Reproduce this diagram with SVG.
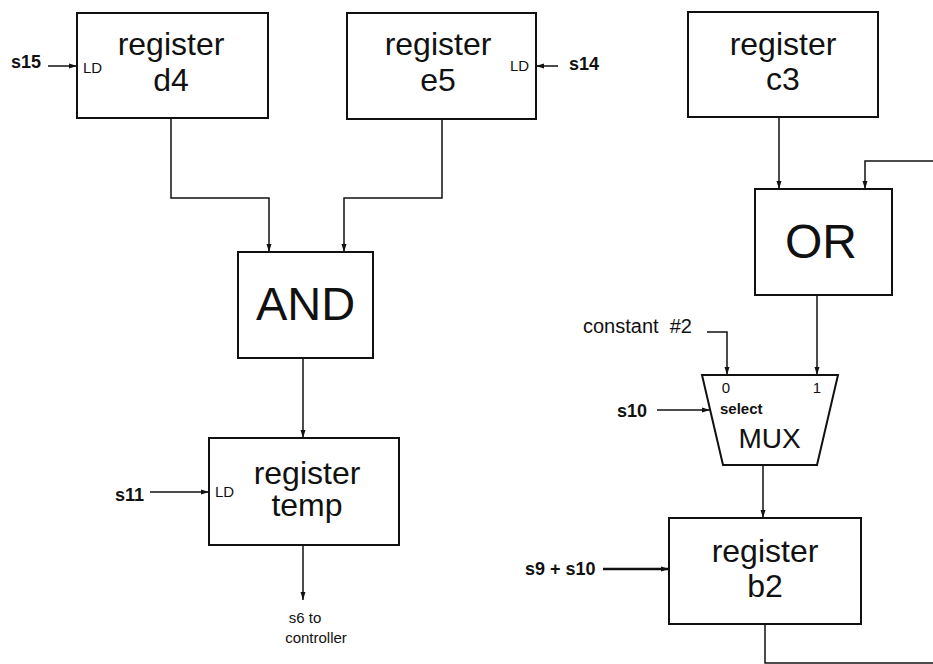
<svg xmlns="http://www.w3.org/2000/svg" width="933" height="664" viewBox="0 0 933 664">
<style>
.box{fill:#fff;stroke:#111;stroke-width:2}
.w{fill:none;stroke:#111;stroke-width:1.5}
.big{font-family:"Liberation Sans",Arial,sans-serif;font-size:32px;fill:#111;text-anchor:middle}
.sig{font-family:"Liberation Sans",Arial,sans-serif;font-size:18px;font-weight:bold;fill:#111}
.sm{font-family:"Liberation Sans",Arial,sans-serif;font-size:15px;fill:#111}
</style>
<defs>
<marker id="ah" viewBox="0 0 8 6" refX="8" refY="3" markerWidth="8" markerHeight="6" markerUnits="userSpaceOnUse" orient="auto">
<path d="M0,0.5 L8,3 L0,5.5 Z" fill="#111"/>
</marker>
</defs>
<rect width="933" height="664" fill="#fff"/>
<g id="connectors">
<path class="w" d="M171,118 V198 H269 V252" marker-end="url(#ah)"/>
<path class="w" d="M442,119 V198 H344 V252" marker-end="url(#ah)"/>
<path class="w" d="M303,358 V438" marker-end="url(#ah)"/>
<path class="w" d="M303,545 V600" marker-end="url(#ah)"/>
<path class="w" d="M48,66 H77" marker-end="url(#ah)"/>
<path class="w" d="M558,66 H536" marker-end="url(#ah)"/>
<path class="w" d="M150,492 H209" marker-end="url(#ah)"/>
<path class="w" d="M779,117 V189" marker-end="url(#ah)"/>
<path class="w" d="M933,161 H865 V189" marker-end="url(#ah)"/>
<path class="w" d="M817,295 V375" marker-end="url(#ah)"/>
<path class="w" d="M707,332 H727 V375" marker-end="url(#ah)"/>
<path class="w" d="M657,410 H710" marker-end="url(#ah)"/>
<path class="w" d="M763,465 V518" marker-end="url(#ah)"/>
<path class="w" d="M603,569 H669" style="stroke-width:2.5" marker-end="url(#ah)"/>
<path class="w" d="M765,624 V663 H933"/>
</g>
<g id="reg-d4">
<rect class="box" x="77" y="13" width="191" height="105"/>
<text class="big" x="171" y="55">register</text>
<text class="big" x="171" y="91">d4</text>
<text class="sm" x="83" y="73">LD</text>
<text class="sig" x="11" y="68">s15</text>
</g>
<g id="reg-e5">
<rect class="box" x="347" y="13" width="189" height="106"/>
<text class="big" x="438" y="55">register</text>
<text class="big" x="438" y="91">e5</text>
<text class="sm" x="510" y="71">LD</text>
<text class="sig" x="569" y="70">s14</text>
</g>
<g id="and">
<rect class="box" x="238" y="252" width="135" height="106"/>
<text class="big" x="305.5" y="320" style="font-size:47px">AND</text>
</g>
<g id="reg-temp">
<rect class="box" x="209" y="438" width="190" height="107"/>
<text class="big" x="307" y="484">register</text>
<text class="big" x="307" y="516">temp</text>
<text class="sm" x="215" y="497">LD</text>
<text class="sig" x="115" y="501">s11</text>
<text class="sm" x="305" y="623" style="text-anchor:middle">s6 to</text>
<text class="sm" x="316" y="643" style="text-anchor:middle">controller</text>
</g>
<g id="reg-c3">
<rect class="box" x="688" y="12" width="190" height="105"/>
<text class="big" x="783" y="55">register</text>
<text class="big" x="783" y="90">c3</text>
</g>
<g id="or">
<rect class="box" x="755" y="189" width="137" height="106"/>
<text class="big" x="821" y="258" style="font-size:48px">OR</text>
</g>
<g id="mux">
<path class="box" d="M702,375 H838 L817,465 H723 Z"/>
<text class="sm" x="726" y="393" style="text-anchor:middle">0</text>
<text class="sm" x="817" y="393" style="text-anchor:middle">1</text>
<text class="sm" x="720" y="414" style="font-weight:bold">select</text>
<text class="big" x="769.5" y="448" style="font-size:28px">MUX</text>
<text class="sm" x="583" y="333" style="font-size:20px" xml:space="preserve">constant  #2</text>
<text class="sig" x="617" y="417">s10</text>
</g>
<g id="reg-b2">
<rect class="box" x="669" y="518" width="192" height="106"/>
<text class="big" x="765" y="562">register</text>
<text class="big" x="765" y="597">b2</text>
<text class="sig" x="525" y="575" xml:space="preserve">s9 + s10</text>
</g>
</svg>
